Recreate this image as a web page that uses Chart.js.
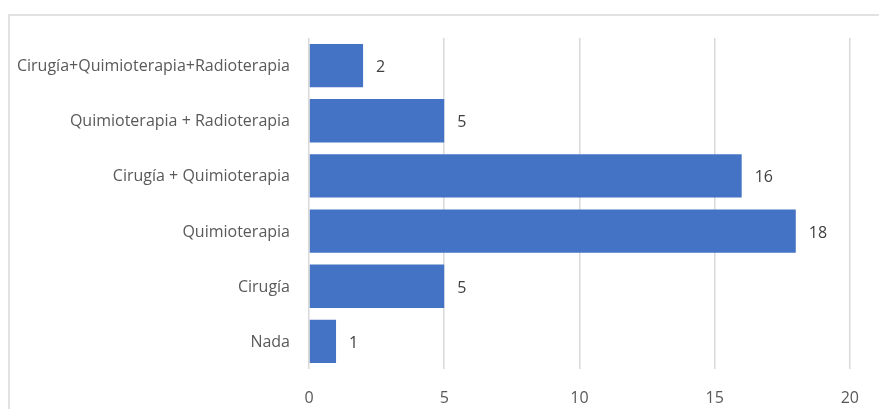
<!DOCTYPE html>
<html>
<head>
<meta charset="utf-8">
<script src="https://cdn.jsdelivr.net/npm/chart.js@4/dist/chart.umd.min.js"></script>
<style>
  html, body { margin: 0; padding: 0; background: #ffffff; }
  #wrap { position: relative; width: 879px; height: 409px; }
</style>
</head>
<body>
<div id="wrap"><canvas id="chart" width="879" height="409"></canvas></div>
<script>
// Treatment categories (top to bottom) and number of patients
const categories = [
  'Cirugía+Quimioterapia+Radioterapia',
  'Quimioterapia + Radioterapia',
  'Cirugía + Quimioterapia',
  'Quimioterapia',
  'Cirugía',
  'Nada'
];
const patients = [2, 5, 16, 18, 5, 1];
const xTicks = [0, 5, 10, 15, 20];

const FONT = '"Open Sans", Lato, sans-serif';

// Light frame around the chart area (top and left edges)
const framePlugin = {
  id: 'frame',
  beforeDraw(chart) {
    const ctx = chart.ctx;
    ctx.save();
    ctx.fillStyle = '#ffffff';
    ctx.fillRect(0, 0, chart.width, chart.height);
    ctx.strokeStyle = '#d9d9d9';
    ctx.lineWidth = 1.5;
    ctx.beginPath();
    ctx.moveTo(9, chart.height);
    ctx.lineTo(9, 15);
    ctx.lineTo(chart.width, 15);
    ctx.stroke();
    ctx.restore();
  }
};

// Value labels to the right of each bar
const valueLabels = {
  id: 'valueLabels',
  afterDatasetsDraw(chart) {
    const ctx = chart.ctx;
    const meta = chart.getDatasetMeta(0);
    ctx.save();
    ctx.font = '16px ' + FONT;
    ctx.fillStyle = '#404040';
    ctx.textAlign = 'left';
    ctx.textBaseline = 'middle';
    meta.data.forEach((bar, i) => {
      ctx.fillText(String(chart.data.datasets[0].data[i]), bar.x + 13, bar.y + 2);
    });
    ctx.restore();
  }
};

new Chart(document.getElementById('chart'), {
  type: 'bar',
  data: {
    labels: categories,
    datasets: [{
      data: patients,
      backgroundColor: '#4472c4',
      borderWidth: 0,
      barPercentage: 1,
      categoryPercentage: 0.787
    }]
  },
  options: {
    indexAxis: 'y',
    responsive: false,
    animation: false,
    layout: { padding: { top: 38, right: 29, bottom: 0, left: 0 } },
    plugins: {
      legend: { display: false },
      tooltip: { enabled: false }
    },
    scales: {
      x: {
        min: 0,
        max: 20,
        afterBuildTicks(scale) {
          scale.ticks = xTicks.map(v => ({ value: v }));
        },
        afterFit(scale) { scale.height = 40; },
        grid: { color: '#d9d9d9', lineWidth: 1.5, drawTicks: false },
        border: { display: false },
        ticks: {
          padding: 20,
          color: '#595959',
          font: { family: FONT, size: 16 }
        }
      },
      y: {
        afterFit(scale) { scale.width = 309; },
        grid: { display: false, drawTicks: false },
        border: { display: false },
        ticks: {
          padding: 19,
          labelOffset: 1,
          color: '#595959',
          font: { family: FONT, size: 16 }
        }
      }
    }
  },
  plugins: [framePlugin, valueLabels]
});
</script>
</body>
</html>
